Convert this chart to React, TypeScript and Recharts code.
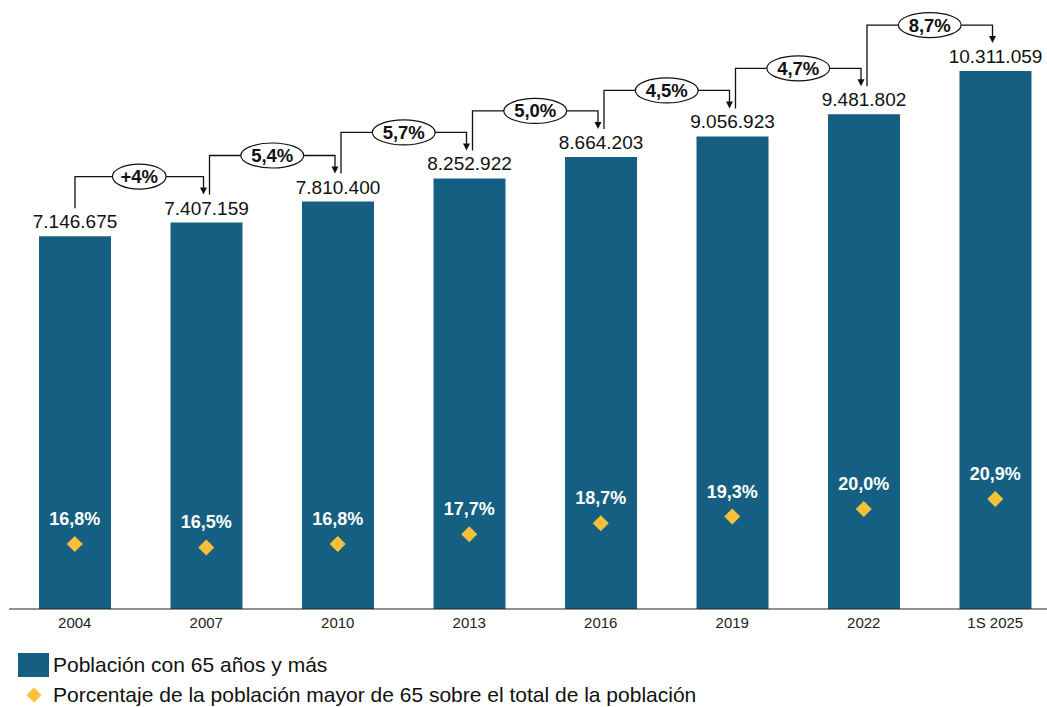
import React from 'react';
import { ComposedChart, Bar, Scatter, XAxis, YAxis, LabelList, Legend } from 'recharts';

const years = ['2004', '2007', '2010', '2013', '2016', '2019', '2022', '1S 2025'];
const population = [7146675, 7407159, 7810400, 8252922, 8664203, 9056923, 9481802, 10311059];
const pctOver65 = [16.8, 16.5, 16.8, 17.7, 18.7, 19.3, 20.0, 20.9];
const growthLabels = ['+4%', '5,4%', '5,7%', '5,0%', '4,5%', '4,7%', '8,7%'];

const legendBarName = 'Población con 65 años y más';
const legendPctName = 'Porcentaje de la población mayor de 65 sobre el total de la población';

const data = years.map((year, i) => ({ year, pop: population[i], pct: pctOver65[i] }));

const CHART_W = 1061;
const CHART_H = 707;
const MARGIN = { top: 9, right: 0, left: 9, bottom: 0 };
const STEP = (CHART_W - MARGIN.left - MARGIN.right) / years.length;

const BAR_COLOR = '#156082';
const GOLD = '#FBC03A';
const FONT = '"Liberation Sans", Arial, sans-serif';

const fmtPop = (n: number) => String(n).replace(/\B(?=(\d{3})+(?!\d))/g, '.');
const fmtPct = (n: number) => n.toFixed(1).replace('.', ',') + '%';

const BarLabel = (props: any) => {
  const vb = props.viewBox || props;
  const x = vb.x ?? props.x;
  const y = vb.y ?? props.y;
  const w = vb.width ?? props.width;
  const h = vb.height ?? props.height;
  const index: number = props.index;
  const value = population[index];
  const cx = x + w / 2;
  const els: any[] = [];
  els.push(
    <text key="v" x={cx} y={y - 8} textAnchor="middle" fontSize={19} fontFamily={FONT} fill="#111">
      {fmtPop(value)}
    </text>
  );
  if (index < population.length - 1) {
    const unit = h / value;
    const base = y + h;
    const nextTop = base - population[index + 1] * unit;
    const nextCx = cx + STEP;
    const level = nextTop - 46;
    const startY = y - 28;
    const endY = nextTop - 28;
    const x1 = index === 0 ? cx : cx + 3;
    const x2 = nextCx - 3;
    const label = growthLabels[index];
    const mid = (x1 + x2) / 2;
    const rx = 13 + label.length * 4.6;
    els.push(
      <g key="c">
        <path d={`M${x1},${startY} V${level} H${x2} V${endY - 6}`} fill="none" stroke="#111" strokeWidth={1.3} />
        <path d={`M${x2 - 3.5},${endY - 7} L${x2 + 3.5},${endY - 7} L${x2},${endY} Z`} fill="#111" />
        <ellipse cx={mid} cy={level} rx={rx} ry={12.5} fill="#fff" stroke="#111" strokeWidth={1.2} />
        <text x={mid} y={level + 6.5} textAnchor="middle" fontSize={18.5} fontWeight="bold" fontFamily={FONT} fill="#111">
          {label}
        </text>
      </g>
    );
  }
  return <g>{els}</g>;
};

const DiamondShape = (props: any) => {
  const { cx, cy, payload } = props;
  const s = 8;
  return (
    <g>
      <path d={`M${cx},${cy - s} L${cx + s},${cy} L${cx},${cy + s} L${cx - s},${cy} Z`} fill={GOLD} />
      <text x={cx} y={cy - 19} textAnchor="middle" fontSize={18} fontWeight="bold" fontFamily={FONT} fill="#fff">
        {fmtPct(payload.pct)}
      </text>
    </g>
  );
};

const LegendContent = () => (
  <div style={{ position: 'relative', height: 57, width: 1047, fontFamily: FONT, color: '#111' }}>
    <div style={{ position: 'absolute', left: 18, top: 3, width: 31, height: 24, background: BAR_COLOR }} />
    <div style={{ position: 'absolute', left: 53, top: 3, height: 24, lineHeight: '24px', fontSize: 21, whiteSpace: 'nowrap' }}>
      {legendBarName}
    </div>
    <svg style={{ position: 'absolute', left: 26, top: 37 }} width={16} height={16}>
      <path d="M8,0.5 L15.5,8 L8,15.5 L0.5,8 Z" fill={GOLD} />
    </svg>
    <div style={{ position: 'absolute', left: 53, top: 33, height: 24, lineHeight: '24px', fontSize: 21, whiteSpace: 'nowrap' }}>
      {legendPctName}
    </div>
  </div>
);

export default function App() {
  return (
    <div style={{ position: 'absolute', left: 0, top: 0, width: 1047, height: 707, overflow: 'hidden', background: '#fff' }}>
      <ComposedChart width={CHART_W} height={CHART_H} data={data} margin={MARGIN}>
        <XAxis
          dataKey="year"
          interval={0}
          tickLine={false}
          axisLine={{ stroke: '#222', strokeWidth: 1 }}
          tick={{ fontSize: 15, fill: '#222', fontFamily: FONT }}
          height={41}
        />
        <YAxis yAxisId="pop" hide domain={[0, 11500000]} />
        <YAxis yAxisId="pct" hide orientation="right" domain={[10.9, 65.45]} />
        <Legend
          verticalAlign="bottom"
          align="left"
          content={<LegendContent />}
          wrapperStyle={{ left: 0, top: 650, bottom: 'auto', width: 1047 }}
        />
        <Bar yAxisId="pop" dataKey="pop" name={legendBarName} fill={BAR_COLOR} barSize={72} isAnimationActive={false}>
          <LabelList dataKey="pop" content={<BarLabel />} />
        </Bar>
        <Scatter yAxisId="pct" dataKey="pct" name={legendPctName} shape={<DiamondShape />} isAnimationActive={false} />
      </ComposedChart>
    </div>
  );
}
